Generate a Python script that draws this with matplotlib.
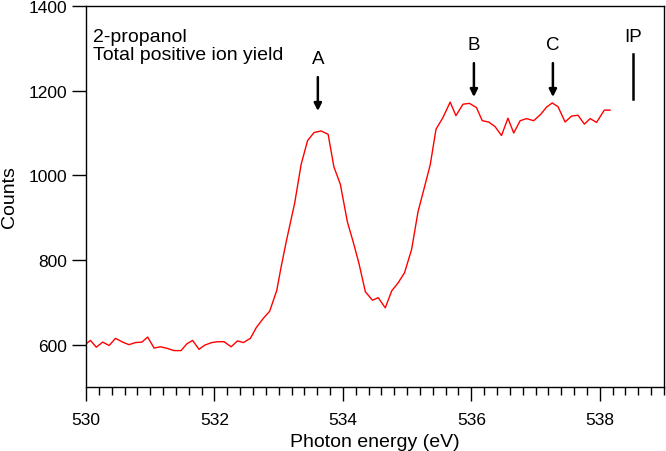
import matplotlib
matplotlib.use("Agg")
import matplotlib.pyplot as plt
from matplotlib.ticker import MultipleLocator

plt.rcParams['font.family'] = ['Liberation Sans', 'DejaVu Sans']

# photon energy (eV) and counts
energy = [530.00, 530.07, 530.16, 530.26, 530.36, 530.46, 530.57, 530.67, 530.77, 530.87,
          530.96, 531.06, 531.16, 531.27, 531.37, 531.48, 531.57, 531.66, 531.76, 531.85,
          531.96, 532.05, 532.15, 532.26, 532.36, 532.45, 532.56, 532.65, 532.76, 532.86,
          532.97, 533.04, 533.12, 533.25, 533.35, 533.45, 533.55, 533.66, 533.77, 533.86,
          533.96, 534.07, 534.16, 534.25, 534.35, 534.46, 534.55, 534.66, 534.76, 534.86,
          534.96, 535.07, 535.17, 535.27, 535.36, 535.45, 535.56, 535.67, 535.76, 535.87,
          535.97, 536.08, 536.17, 536.27, 536.37, 536.47, 536.57, 536.66, 536.76, 536.86,
          536.97, 537.08, 537.17, 537.26, 537.35, 537.46, 537.56, 537.66, 537.76, 537.85,
          537.95, 538.07, 538.16]
counts = [602, 610, 594, 606, 598, 615, 606, 600, 605, 606,
          618, 592, 595, 591, 586, 586, 602, 610, 589, 599,
          605, 607, 607, 595, 609, 605, 615, 640, 662, 679,
          728, 785, 845, 935, 1026, 1082, 1101, 1105, 1097, 1020,
          979, 890, 843, 792, 725, 705, 711, 687, 727, 746,
          770, 825, 914, 972, 1025, 1109, 1137, 1173, 1141, 1168,
          1170, 1160, 1129, 1126, 1115, 1094, 1135, 1100, 1129, 1134,
          1129, 1144, 1161, 1171, 1162, 1126, 1140, 1142, 1121, 1134,
          1125, 1154, 1154]

# resonance markers
peak_labels = ["A", "B", "C"]
peak_pos = [533.61, 536.04, 537.27]
peak_label_y = [1275, 1310, 1310]
peak_arrow_top = [1232, 1265, 1265]
peak_arrow_tip = [1152, 1185, 1185]
ip_pos = 538.52

fig = plt.figure(figsize=(6.66, 4.52), dpi=100)
ax = fig.add_axes([86 / 666, 64 / 452, 578 / 666, 381 / 452])

ax.plot(energy, counts, color="red", linewidth=1.0)

for lab, xp, ly, top, tip in zip(peak_labels, peak_pos, peak_label_y, peak_arrow_top, peak_arrow_tip):
    ax.text(xp, ly, lab, ha="center", va="center", fontsize=13.5)
    ax.annotate("", xy=(xp, tip), xytext=(xp, top),
                arrowprops=dict(arrowstyle="-|>", color="black", lw=1.8,
                                mutation_scale=11, shrinkA=0, shrinkB=0))

ax.text(ip_pos, 1329, "IP", ha="center", va="center", fontsize=13.5)
ax.plot([ip_pos, ip_pos], [1180, 1287], color="black", linewidth=1.8)

ax.text(530.11, 1348, "2-propanol\nTotal positive ion yield", ha="left", va="top",
        fontsize=14, linespacing=1.1)

ax.set_xlim(530, 539)
ax.set_ylim(500, 1400)
ax.xaxis.set_major_locator(MultipleLocator(2))
ax.xaxis.set_minor_locator(MultipleLocator(0.2))
ax.yaxis.set_major_locator(MultipleLocator(200))
ax.tick_params(axis="both", which="major", direction="out", length=10, width=1,
               labelsize=12.5, top=False, right=False)
ax.tick_params(axis="x", which="minor", direction="out", length=6, width=1)
ax.tick_params(axis="x", which="major", pad=8)

for sp in ax.spines.values():
    sp.set_linewidth(1.0)

ax.set_xlabel("Photon energy (eV)", fontsize=14)
ax.set_ylabel("Counts", fontsize=14, labelpad=8)

plt.savefig("out.png", dpi=100)
